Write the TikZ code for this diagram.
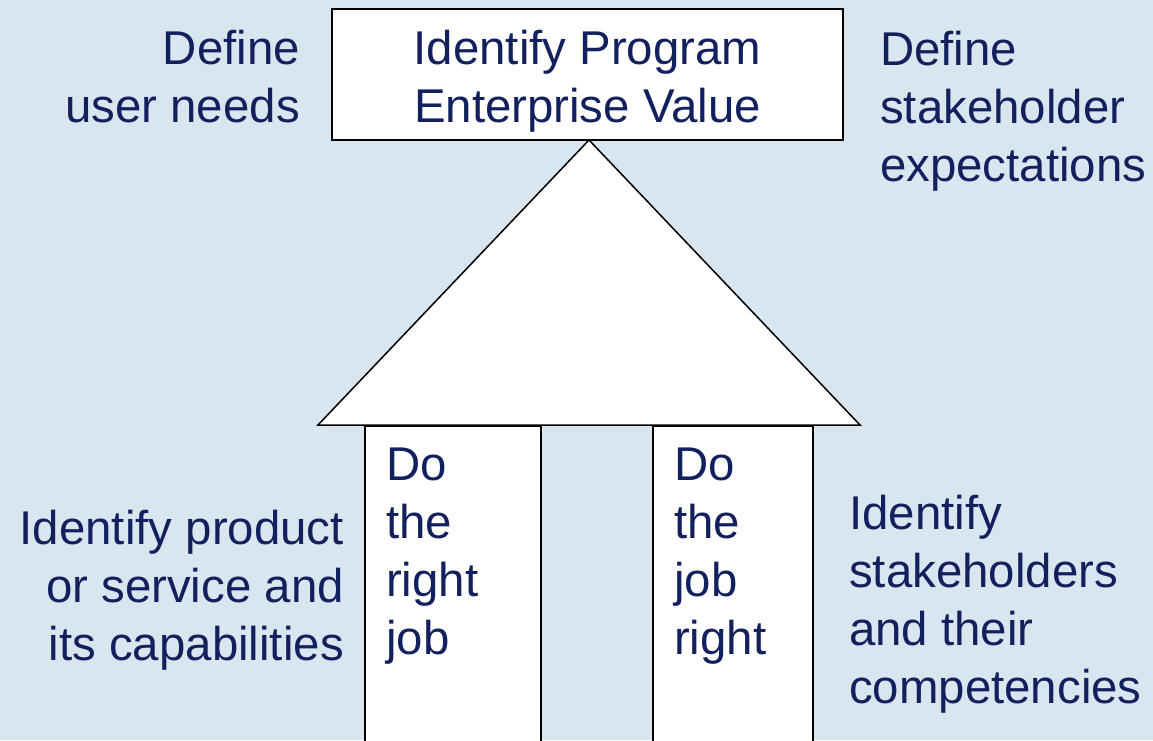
\documentclass[tikz,border=0pt]{standalone}
\usepackage{fontspec}
\setmainfont{Liberation Sans}
\usetikzlibrary{positioning}
\definecolor{navy}{HTML}{13205E}
\definecolor{paleblue}{HTML}{D9E6F0}

\begin{document}
\begin{tikzpicture}[
	x=1pt, y=-1pt,
	whitebox/.style={draw=black, fill=white, line width=1.5pt},
	txt/.style={text=navy, inner sep=0pt, font=\fontsize{47.4}{58}\selectfont},
]
\fill[paleblue] (0,0) rectangle (1153,740);
\useasboundingbox (0,0) rectangle (1153,740);

% roof
\coordinate (apex) at (589,140);
\coordinate (eaveL) at (318,425);
\coordinate (eaveR) at (860,425);
\draw[whitebox, line join=miter] (apex) -- (eaveL) -- (eaveR) -- cycle;

% pillars
\node[whitebox, anchor=north west, minimum width=176pt, minimum height=340pt](lpillar) at (364,425) {};
\node[whitebox, anchor=north west, minimum width=160pt, minimum height=340pt](rpillar) at (652,425) {};

% value box
\node[whitebox, txt, draw=black, minimum width=511pt, minimum height=131pt, align=center](value) at (587.5,74.5) {\rule{0pt}{48pt}Identify Program\\Enterprise Value};

\node[txt, align=right, anchor=north east](userneeds) at (300,30) {Define\\user needs};
\node[txt, align=left, anchor=north west](expect) at (880,31) {Define\\stakeholder\\expectations};

\node[txt, align=left, anchor=north west](rightjob) at (386,448) {Do\\the\\right\\job};
\node[txt, align=left, anchor=north west](jobright) at (674,448) {Do\\the\\job\\right};

\node[txt, align=right, anchor=north east](product) at (344,510) {Identify product\\or service and\\its capabilities};
\node[txt, align=left, anchor=north west](stakeholders) at (849,495) {Identify\\stakeholders\\and their\\competencies};
\end{tikzpicture}
\end{document}
